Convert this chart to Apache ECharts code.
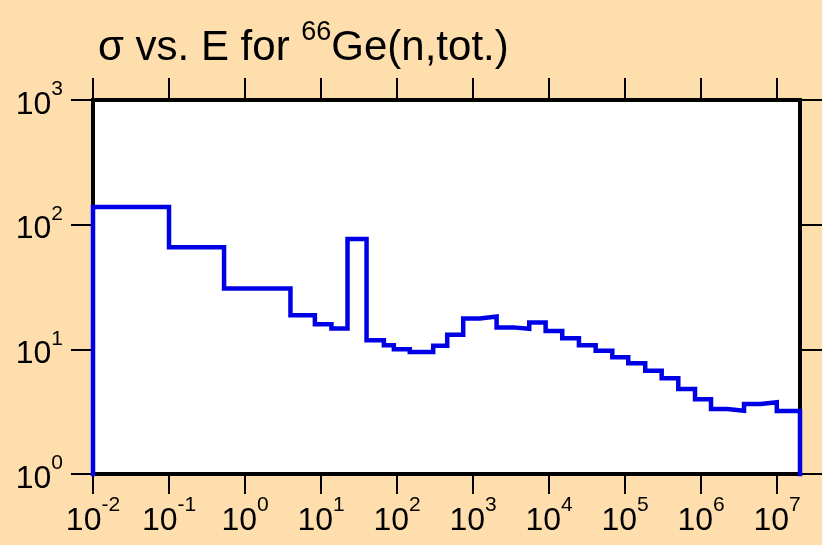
<!DOCTYPE html>
<html>
<head>
<meta charset="utf-8">
<script src="https://cdn.jsdelivr.net/npm/echarts@6/dist/echarts.min.js"></script>
<style>
  html, body { margin: 0; padding: 0; background: #FFDEAD; }
  #chart { width: 822px; height: 545px; }
</style>
</head>
<body>
<div id="chart"></div>
<script>
// Group boundaries in incident energy (eV)
const energyEdges = [
  0.01, 0.1, 0.53, 3.96, 8.3, 13.7, 22.3, 39.7, 67.1, 90.8,
  147, 299, 457, 742, 1230, 2040, 3380, 5480, 9010, 14900,
  24700, 41000, 67900, 110000, 184000, 303000, 501000, 832000, 1.35e6, 2.21e6,
  3.67e6, 6.09e6, 9.9e6, 2e7
];
// Group-averaged total cross section (barns), one per group
const crossSections = [
  138.6, 65.8, 30.8, 18.8, 15.9, 14.7, 76.7, 11.8, 10.8, 10.0,
  9.52, 10.7, 13.1, 17.7, 18.3, 15.0, 14.6, 16.4, 14.0, 12.3,
  10.8, 9.75, 8.63, 7.73, 6.74, 5.86, 4.81, 3.97, 3.32, 3.22,
  3.64, 3.76, 3.20
];
// Decade ticks on both axes
const energyTicks = [0.01, 0.1, 1, 10, 100, 1e3, 1e4, 1e5, 1e6, 1e7];
const sigmaTicks = [1, 10, 100, 1000];
// Histogram drops to the energy axis at both ends
const baseline = 0.1;

const FONT = "'Liberation Sans', Arial, Helvetica, sans-serif";

// Build histogram vertices from the arrays above
const histPoints = [[energyEdges[0], baseline]];
crossSections.forEach((v, i) => histPoints.push([energyEdges[i], v]));
histPoints.push([energyEdges[energyEdges.length - 1], crossSections[crossSections.length - 1]]);
histPoints.push([energyEdges[energyEdges.length - 1], baseline]);

function powerLabel(v) {
  const lg = Math.log10(v);
  const p = Math.round(lg);
  if (Math.abs(lg - p) > 1e-6) return '';
  return '{b|10}{e|' + p + '}';
}

const labelRich = {
  b: { fontFamily: FONT, fontSize: 32, color: '#000', verticalAlign: 'bottom', lineHeight: 42 },
  e: { fontFamily: FONT, fontSize: 21, color: '#000', verticalAlign: 'top', lineHeight: 42 }
};

const chart = echarts.init(document.getElementById('chart'), null, { renderer: 'canvas' });

const tickStyle = { color: '#000', width: 2 };
const xCommon = { type: 'log', logBase: 10, min: 0.01, max: 2e7, interval: 1, splitLine: { show: false }, minorTick: { show: false } };
const yCommon = { type: 'log', logBase: 10, min: 1, max: 1000, interval: 1, splitLine: { show: false }, minorTick: { show: false } };

chart.setOption({
  backgroundColor: '#FFDEAD',
  animation: false,
  title: {
    text: '{a|σ vs. E for }{s|66}{a|Ge(n,tot.)}',
    left: 93,
    top: 14,
    textStyle: {
      fontWeight: 'normal',
      rich: {
        a: { fontFamily: FONT, fontSize: 42, fontWeight: 'normal', color: '#000', verticalAlign: 'bottom', lineHeight: 50 },
        s: { fontFamily: FONT, fontSize: 27, fontWeight: 'normal', color: '#000', verticalAlign: 'top', lineHeight: 50 }
      }
    }
  },
  grid: {
    left: 93, top: 100, width: 707, height: 374,
    show: true, backgroundColor: '#fff', borderColor: '#000', borderWidth: 4
  },
  xAxis: [
    Object.assign({}, xCommon, {
      position: 'bottom',
      axisLine: { show: false },
      axisTick: { show: true, inside: false, length: 20, lineStyle: tickStyle, customValues: energyTicks },
      axisLabel: { show: true, margin: 21, formatter: powerLabel, rich: labelRich, customValues: energyTicks, hideOverlap: false }
    }),
    Object.assign({}, xCommon, {
      position: 'top',
      axisLine: { show: false },
      axisTick: { show: true, inside: false, length: 22, lineStyle: tickStyle, customValues: energyTicks },
      axisLabel: { show: false }
    })
  ],
  yAxis: [
    Object.assign({}, yCommon, {
      position: 'left',
      axisLine: { show: false },
      axisTick: { show: true, inside: false, length: 22, lineStyle: tickStyle, customValues: sigmaTicks },
      axisLabel: { show: true, margin: 30, formatter: powerLabel, rich: labelRich, customValues: sigmaTicks }
    }),
    Object.assign({}, yCommon, {
      position: 'right',
      axisLine: { show: false },
      axisTick: { show: true, inside: false, length: 22, lineStyle: tickStyle, customValues: sigmaTicks },
      axisLabel: { show: false }
    })
  ],
  series: [{
    type: 'line',
    xAxisIndex: 0,
    yAxisIndex: 0,
    data: histPoints,
    step: 'end',
    symbol: 'none',
    clip: true,
    lineStyle: { color: '#0000E6', width: 4.5, join: 'miter' }
  }]
});
</script>
</body>
</html>
